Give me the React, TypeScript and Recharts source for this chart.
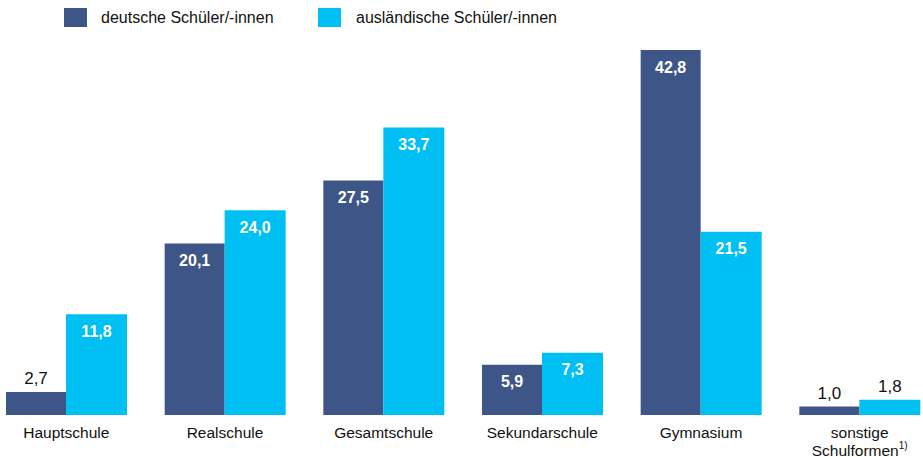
import React from "react";
import { BarChart, Bar, XAxis, YAxis, LabelList } from "recharts";

const categories = ["Hauptschule", "Realschule", "Gesamtschule", "Sekundarschule", "Gymnasium", "sonstige Schulformen"];
const deutsche = [2.7, 20.1, 27.5, 5.9, 42.8, 1.0];
const auslaendische = [11.8, 24.0, 33.7, 7.3, 21.5, 1.8];

const seriesNames = ["deutsche Schüler/-innen", "ausländische Schüler/-innen"];

const DARK = "#3E5587";
const CYAN = "#00BFF2";
const FONT = "'Liberation Sans', Arial, sans-serif";

const data = categories.map((name, i) => ({
  name,
  de: deutsche[i],
  aus: auslaendische[i],
}));

const fmt = (v: number) => v.toFixed(1).replace(".", ",");

function ValueLabel(props: any) {
  const { x, y, width, value } = props;
  const cx = x + width / 2;
  if (value < 3) {
    return (
      <text x={cx} y={y - 13} textAnchor="middle" dominantBaseline="central" fontSize={17} fill="#111" fontFamily={FONT}>
        {fmt(value)}
      </text>
    );
  }
  return (
    <text x={cx} y={y + 17} textAnchor="middle" dominantBaseline="central" fontSize={16} fontWeight="bold" fill="#fff" fontFamily={FONT}>
      {fmt(value)}
    </text>
  );
}

function CategoryTick(props: any) {
  const { x, y, payload } = props;
  if (payload.value === "sonstige Schulformen") {
    return (
      <g>
        <text x={x} y={y + 9} textAnchor="middle" dominantBaseline="central" fontSize={15.5} fill="#111" fontFamily={FONT}>
          sonstige
        </text>
        <text x={x} y={y + 27} textAnchor="middle" dominantBaseline="central" fontSize={15.5} fill="#111" fontFamily={FONT}>
          Schulformen<tspan fontSize={10} dy={-5}>1)</tspan>
        </text>
      </g>
    );
  }
  return (
    <text x={x} y={y + 9} textAnchor="middle" dominantBaseline="central" fontSize={15.5} fill="#111" fontFamily={FONT}>
      {payload.value}
    </text>
  );
}

function LegendBox() {
  const items = [
    { label: seriesNames[0], color: DARK, left: 64, textLeft: 101 },
    { label: seriesNames[1], color: CYAN, left: 318, textLeft: 356 },
  ];
  return (
    <div style={{ position: "absolute", left: 0, top: 0, width: 923, height: 40, fontFamily: FONT, fontSize: 16, color: "#111" }}>
      {items.map((it) => (
        <React.Fragment key={it.label}>
          <div style={{ position: "absolute", left: it.left, top: 8, width: 23, height: 19, background: it.color }} />
          <div style={{ position: "absolute", left: it.textLeft, top: 8, lineHeight: "19px", whiteSpace: "nowrap" }}>{it.label}</div>
        </React.Fragment>
      ))}
    </div>
  );
}

export default function App() {
  return (
    <div style={{ position: "absolute", left: 0, top: 0, width: 923, height: 457, background: "#fff" }}>
      <BarChart
        width={923}
        height={457}
        data={data}
        margin={{ top: 50, right: 0, left: 0, bottom: 0 }}
        barGap={0}
        barCategoryGap={38}
      >
        <XAxis
          dataKey="name"
          axisLine={false}
          tickLine={false}
          height={42}
          interval={0}
          padding={{ left: -13, right: -16 }}
          tick={<CategoryTick />}
        />
        <YAxis hide domain={[0, 42.8]} />
        <Bar dataKey="de" name={seriesNames[0]} fill={DARK} barSize={60} isAnimationActive={false}>
          <LabelList dataKey="de" content={<ValueLabel />} />
        </Bar>
        <Bar dataKey="aus" name={seriesNames[1]} fill={CYAN} barSize={61} isAnimationActive={false}>
          <LabelList dataKey="aus" content={<ValueLabel />} />
        </Bar>
      </BarChart>
      <LegendBox />
    </div>
  );
}
